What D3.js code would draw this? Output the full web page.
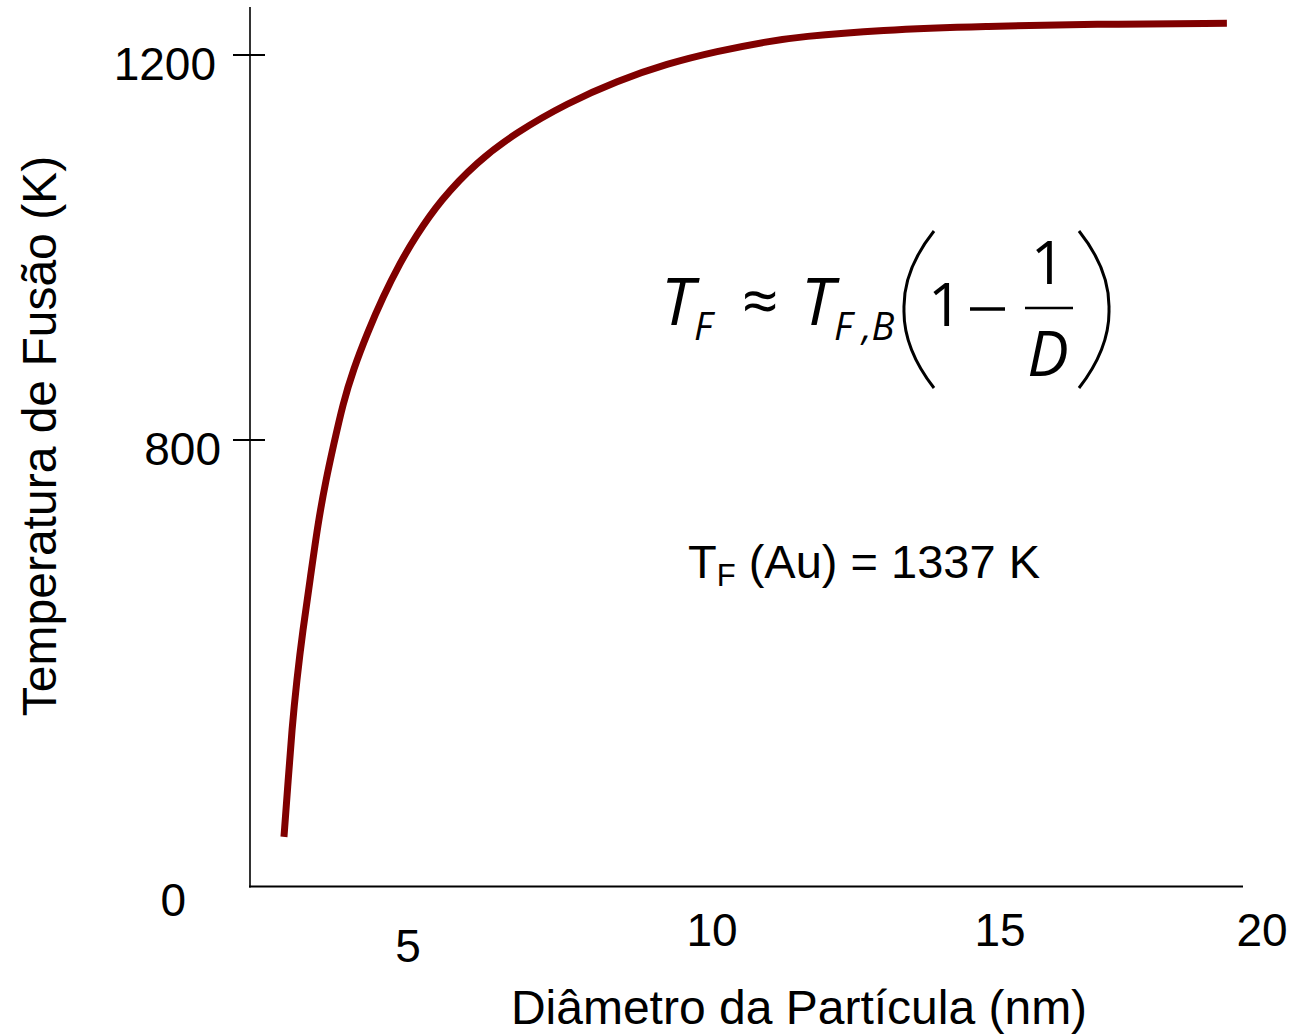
<!DOCTYPE html>
<html lang="pt">
<head>
  <meta charset="UTF-8">
  <title>Temperatura de Fusão vs Diâmetro</title>
  <script src="https://d3js.org/d3.v7.min.js"></script>
  <style>
    body { margin: 0; background: #fff; }
    svg { display: block; }
    .lbl { font-family: "Liberation Sans", Arial, sans-serif; font-size: 46px; fill: #000; }
    .ttl { font-size: 48px; }
    .eq { font-family: "Open Sans", "Noto Sans", sans-serif; fill: #000; }
  </style>
</head>
<body>
  <div id="chart"></div>
  <script>
    // curve (diameter in nm, temperature in K)
    const diameters = [2.96, 3.03, 3.09, 3.17, 3.27, 3.39, 3.52, 3.65, 3.77, 3.93,
                       4.10, 4.33, 4.59, 4.87, 5.12, 5.53, 6.13, 6.79, 7.62,
                       8.44, 9.26, 10.09, 10.95, 11.53, 12.90, 14.76, 16.77, 19.33];
    const temps = [96, 197, 286, 374, 463, 552, 653, 729, 788, 838,
                   873, 911, 949, 984, 1011, 1049, 1089, 1120, 1150,
                   1173, 1191, 1204, 1214, 1219, 1226, 1230, 1232, 1233];

    const xTicks = [5, 10, 15, 20];
    const yTicks = [0, 800, 1200];

    const W = 1293, H = 1035;
    const svg = d3.select('#chart').append('svg')
      .attr('width', W).attr('height', H);

    // the original axes are hand-spaced, so both scales are piecewise
    const x = d3.scaleLinear().domain([5, 10, 15, 20]).range([408, 712, 1000, 1262]);
    const y = d3.scaleLinear().domain([0, 800, 1200]).range([891, 440, 55]);

    const axisX0 = 250, axisY0 = 886.5;

    // axes lines
    svg.append('line')
      .attr('x1', axisX0).attr('x2', axisX0)
      .attr('y1', 7).attr('y2', axisY0 + 1)
      .attr('stroke', '#000').attr('stroke-width', 1.6);
    svg.append('line')
      .attr('x1', axisX0 - 1).attr('x2', 1243)
      .attr('y1', axisY0).attr('y2', axisY0)
      .attr('stroke', '#000').attr('stroke-width', 2);

    // y ticks (0 has no mark, only its label)
    svg.selectAll('line.ytick')
      .data(yTicks.filter(d => d > 0))
      .join('line')
      .attr('class', 'ytick')
      .attr('x1', axisX0 - 17).attr('x2', axisX0 + 15)
      .attr('y1', d => y(d)).attr('y2', d => y(d))
      .attr('stroke', '#000').attr('stroke-width', 2);

    svg.selectAll('text.ylab')
      .data(yTicks)
      .join('text')
      .attr('class', 'lbl ylab')
      .attr('text-anchor', 'end')
      .attr('x', d => d === 0 ? 186 : (d === 800 ? 221 : 216))
      .attr('y', d => y(d) + 25)
      .text(d => d);

    svg.selectAll('text.xlab')
      .data(xTicks)
      .join('text')
      .attr('class', 'lbl xlab')
      .attr('text-anchor', 'middle')
      .attr('x', d => x(d))
      .attr('y', (d, i) => i === 0 ? 962 : 946)
      .text(d => d);

    // axis titles
    svg.append('text')
      .attr('class', 'lbl ttl')
      .attr('text-anchor', 'middle')
      .attr('x', 799).attr('y', 1024)
      .text('Diâmetro da Partícula (nm)');
    svg.append('text')
      .attr('class', 'lbl ttl')
      .attr('text-anchor', 'middle')
      .attr('transform', 'translate(56,436) rotate(-90)')
      .text('Temperatura de Fusão (K)');

    // the curve
    const pts = diameters.map((d, i) => [d, temps[i]]);
    svg.append('path')
      .datum(pts)
      .attr('fill', 'none')
      .attr('stroke', '#800000')
      .attr('stroke-width', 7)
      .attr('d', d3.line().x(d => x(d[0])).y(d => y(d[1])).curve(d3.curveBasis));

    // formula  T_F ≈ T_F,B (1 − 1/D)
    const eq = svg.append('g').attr('class', 'eq');
    const t1 = eq.append('text').attr('x', 661).attr('y', 325)
      .style('font-size', '66px').style('font-style', 'italic');
    t1.append('tspan').text('T');
    t1.append('tspan').attr('dx', 0).attr('dy', 15).style('font-size', '38px').text('F');
    eq.append('text').attr('x', 742).attr('y', 324)
      .style('font-size', '64px').text('≈');
    const t2 = eq.append('text').attr('x', 801).attr('y', 325)
      .style('font-size', '66px').style('font-style', 'italic');
    t2.append('tspan').text('T');
    t2.append('tspan').attr('dx', 0).attr('dy', 15).style('font-size', '38px').text('F ,B');
    // big parentheses
    eq.append('path')
      .attr('d', 'M934,231 Q903,270 904,309 Q903,348 934,388')
      .attr('fill', 'none').attr('stroke', '#000').attr('stroke-width', 3);
    eq.append('path')
      .attr('d', 'M1079,231 Q1110,270 1109,309 Q1110,348 1079,388')
      .attr('fill', 'none').attr('stroke', '#000').attr('stroke-width', 3);
    eq.append('text').attr('x', 928).attr('y', 326)
      .style('font-size', '60px').text('1');
    eq.append('line').attr('x1', 970).attr('x2', 1005)
      .attr('y1', 309).attr('y2', 309)
      .attr('stroke', '#000').attr('stroke-width', 3.5);
    eq.append('text').attr('x', 1048).attr('y', 284)
      .attr('text-anchor', 'middle')
      .style('font-size', '60px').text('1');
    eq.append('line').attr('x1', 1025).attr('x2', 1073)
      .attr('y1', 308).attr('y2', 308)
      .attr('stroke', '#000').attr('stroke-width', 2.5);
    eq.append('text').attr('x', 1048).attr('y', 376)
      .attr('text-anchor', 'middle')
      .style('font-size', '62px').style('font-style', 'italic').text('D');

    // note
    const note = svg.append('text').attr('class', 'lbl')
      .style('font-size', '47px')
      .attr('x', 688).attr('y', 578);
    note.append('tspan').text('T');
    note.append('tspan').attr('dy', 8).style('font-size', '31px').text('F');
    note.append('tspan').attr('dy', -8).text(' (Au) = 1337 K');
  </script>
</body>
</html>
